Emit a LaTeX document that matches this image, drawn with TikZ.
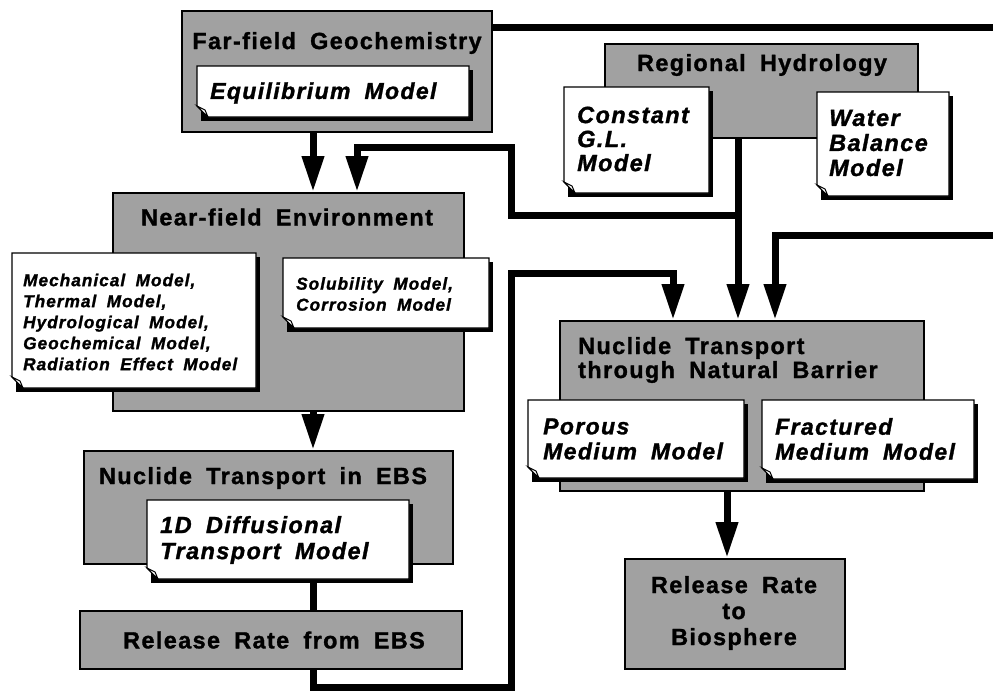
\documentclass[tikz,border=0pt]{standalone}
\usepackage{fontspec}
\setmainfont{Liberation Sans}[LetterSpace=6, WordSpace=1.8, BoldFeatures={FakeBold=1.3}, BoldItalicFeatures={FakeBold=1.3}]
\usetikzlibrary{arrows.meta,calc}
\definecolor{boxgray}{gray}{0.63}
\newcommand\mknote[4]{%
  \fill[black] (#1+4,#2+4) rectangle (#3,#4);
  \filldraw[fill=white, draw=black, line width=1.2pt] (#1,#2) -- (#3-4,#2) -- (#3-4,#4-4) -- (#1+11,#4-4) -- (#1,#4-15) -- cycle;
  \filldraw[fill=white, draw=black, line width=1pt] (#1,#4-15) -- (#1+8,#4-11) -- (#1+11,#4-4) -- cycle;
}
\tikzset{
  x=1pt, y=-1pt,
  gbox/.style={draw=black, line width=1.6pt, fill=boxgray, rectangle, inner sep=0pt, anchor=north west},
  ttl/.style={font=\fontsize{23.4}{24}\selectfont\bfseries, align=center, inner sep=0pt},
  ntxt/.style={font=\fontsize{23}{25}\selectfont\bfseries\itshape, align=left, inner sep=0pt, anchor=west},
  stxt/.style={font=\fontsize{17.2}{21}\selectfont\bfseries\itshape, align=left, inner sep=0pt, anchor=west},
  link/.style={line width=7pt},
  arr/.style={line width=7pt, -{Triangle[length=36pt,width=21pt]}},
}
\begin{document}
\begin{tikzpicture}
\useasboundingbox (0,0) rectangle (993,691);
% guide coordinates
\coordinate (gA) at (313,0);
\coordinate (gB) at (738,0);
\coordinate (gC) at (357,0);
\coordinate (gD) at (775,0);
\coordinate (gE) at (673,0);
\coordinate (gF) at (727,0);
\coordinate (gT) at (0,27);
\coordinate (k1) at (511,215);
\coordinate (k2) at (511,147);
\coordinate (k4) at (511,687);
\coordinate (k5) at (511,273);
\coordinate (rt1) at (993,27);
\coordinate (rt2) at (993,235);

% boxes
\node[gbox, minimum width=310pt, minimum height=121pt] (far) at (181,10) {};
\node[gbox, minimum width=313pt, minimum height=94pt] (reg) at (604,43) {};
\node[gbox, minimum width=351pt, minimum height=218pt] (near) at (112,192) {};
\node[gbox, minimum width=369pt, minimum height=113pt] (ebs) at (83,450) {};
\node[gbox, minimum width=382pt, minimum height=58pt] (rel) at (79,610) {};
\node[gbox, minimum width=364pt, minimum height=170pt] (ntnb) at (559,320) {};
\node[gbox, minimum width=220pt, minimum height=110pt] (bio) at (624,558) {};

% titles
\node[ttl] (farT) at (337,43) {Far-field Geochemistry};
\node[ttl] (regT) at (762,65) {Regional Hydrology};
\node[ttl] (nearT) at (287,217) {Near-field Environment};
\node[ttl] (ebsT) at (263,478) {Nuclide Transport in EBS};
\node[ttl] (relT) at (274,640) {Release Rate from EBS};
\node[ttl, align=left, anchor=west] (ntnbT) at (578,360) {Nuclide Transport\\through Natural Barrier};
\node[ttl, font=\fontsize{23.4}{26}\selectfont\bfseries] (bioT) at (734,613) {Release Rate\\to\\Biosphere};

% connectors
\draw[arr] (far.south -| gA) -- (near.north -| gA);
\draw[arr] (reg.south -| gB) |- (k1) -- (k2) -| (near.north -| gC);
\draw[arr] (reg.south -| gB) -- (ntnb.north -| gB);
\draw[link] (far.east |- gT) -- (rt1);
\draw[arr] (rt2) -| (ntnb.north -| gD);
\draw[arr] (rel.south -| gA) |- (k4) -- (k5) -| (ntnb.north -| gE);
\draw[arr] (ntnb.south -| gF) -- (bio.north -| gF);
\draw[arr] (near.south -| gA) -- (ebs.north -| gA);
\draw[link] (ebs.south -| gA) -- (rel.north -| gA);

% notes
\mknote{197}{66}{473}{121}
\node[ntxt] (eqN) at (210,93) {Equilibrium Model};
\mknote{564}{87}{713}{197}
\node[ntxt, font=\fontsize{23.5}{24}\selectfont\bfseries\itshape] (constN) at (577,139) {Constant\\G.L.\\Model};
\mknote{817}{92}{953}{200}
\node[ntxt, font=\fontsize{23.5}{25}\selectfont\bfseries\itshape] (waterN) at (829,143) {Water\\Balance\\Model};
\mknote{12}{253}{260}{392}
\node[stxt] (mechN) at (23,322) {Mechanical Model,\\Thermal Model,\\Hydrological Model,\\Geochemical Model,\\Radiation Effect Model};
\mknote{283}{258}{493}{332}
\node[stxt] (solN) at (296,294) {Solubility Model,\\Corrosion Model};
\mknote{147}{500}{413}{583}
\node[ntxt, font=\fontsize{23.5}{26}\selectfont\bfseries\itshape] (diffN) at (160,540) {1D Diffusional\\Transport Model};
\mknote{528}{400}{748}{482}
\node[ntxt] (porN) at (543,439) {Porous\\Medium Model};
\mknote{762}{400}{978}{483}
\node[ntxt] (fracN) at (775,439) {Fractured\\Medium Model};
\end{tikzpicture}
\end{document}
